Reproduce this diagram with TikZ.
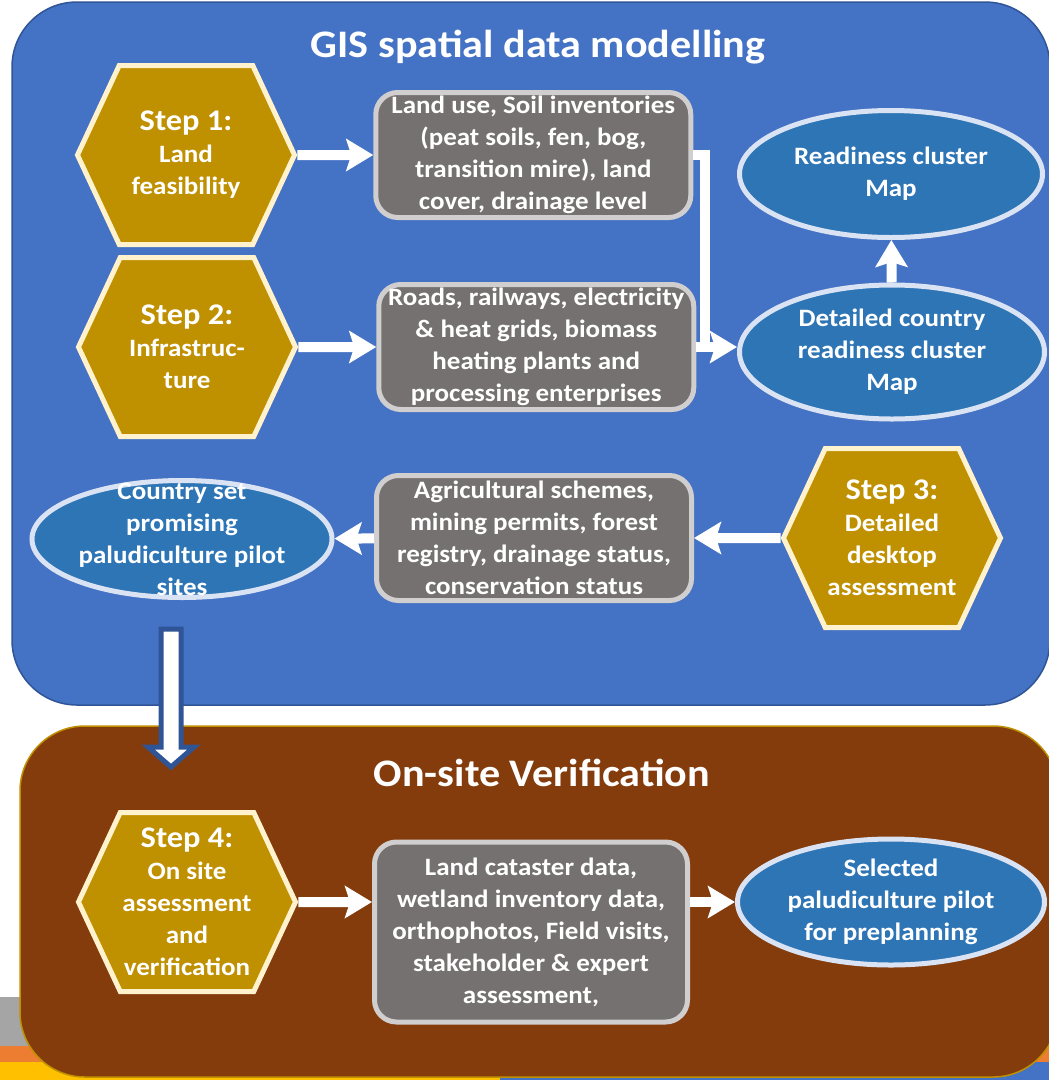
\documentclass[tikz,border=0pt]{standalone}
\usepackage{fontspec}
\setmainfont{Carlito}[FakeStretch=1.08]
\usepackage{tikz}
\usetikzlibrary{arrows.meta,positioning,shapes.geometric,shapes.symbols}
\definecolor{gisblue}{HTML}{4472C4}
\definecolor{gisedge}{HTML}{2F5597}
\definecolor{sitebrown}{HTML}{843C0C}
\definecolor{sitegold}{HTML}{BF9000}
\definecolor{hexcream}{HTML}{FFF2CC}
\definecolor{boxgrey}{HTML}{767171}
\definecolor{boxedge}{HTML}{D0CECE}
\definecolor{ovalblue}{HTML}{2E75B6}
\definecolor{ovaledge}{HTML}{DAE3F3}
\definecolor{barorange}{HTML}{ED7D31}
\definecolor{baryellow}{HTML}{FFC000}
\definecolor{bargrey}{HTML}{A5A5A5}
\newcommand{\stepno}[1]{{\fontsize{30}{33}\selectfont Step #1:}}

\begin{document}
\begin{tikzpicture}[
  x=1pt,y=-1pt,
  every node/.style={text=white,align=center,font=\fontsize{25}{32}\selectfont\bfseries},
  panel/.style={rounded corners=65pt,line width=1.5pt},
  title/.style={font=\fontsize{39}{44}\selectfont\bfseries},
  hexa/.style={signal,signal to=west and east,signal pointer angle=130,fill=sitegold,draw=hexcream,line width=5pt,inner sep=0pt,minimum width=217pt,minimum height=179pt},
  infobox/.style={rectangle,rounded corners=22pt,fill=boxgrey,draw=boxedge,line width=5pt,inner sep=0pt,minimum width=315pt,minimum height=125pt},
  oval/.style={ellipse,fill=ovalblue,draw=ovaledge,line width=5pt,inner sep=0pt},
  link/.style={white,line width=10pt},
  conn/.style={link,-{Stealth[length=27pt,width=32pt,inset=5pt]}}
]
\useasboundingbox (0,0) rectangle (1049,1080);
% footer bars behind the panels
\fill[bargrey] (0,997) rectangle (30,1046);
\fill[barorange] (0,1046) rectangle (1049,1062);
\fill[baryellow] (0,1062) rectangle (500,1080);
\fill[gisblue] (500,1062) rectangle (1049,1080);
% panels
\draw[panel,fill=gisblue,draw=gisedge] (12,2) rectangle (1050,705);
\draw[panel,fill=sitebrown,draw=sitegold] (20,726) rectangle (1058,1077);
\node[title] (gistitle) at (538,47) {GIS spatial data modelling};
\node[title] (sitetitle) at (542,773) {On-site Verification};

% GIS part
\node[hexa] (step1) at (186,155) {\stepno{1}\\Land\\feasibility};
\node[infobox,right=76pt of step1] (landuse) {Land use, Soil inventories\\(peat soils, fen, bog,\\transition mire), land\\cover, drainage level};
\node[hexa] (step2) at (187,347) {\stepno{2}\\Infrastruc-\\ture};
\node[infobox,right=78pt of step2] (infra) {Roads, railways, electricity\\\& heat grids, biomass\\heating plants and\\processing enterprises};
\node[oval,minimum width=305pt,minimum height=134pt,label=center:{Detailed country\\readiness cluster\\Map}] (detail) at (892,352) {};
\node[oval,minimum width=303pt,minimum height=127pt,label=center:{Readiness cluster\\Map}] (ready) at (891,174) {};
\node[hexa] (step3) at (892,538) {\stepno{3}\\Detailed\\desktop\\assessment};
\node[infobox] (schemes) at (534,538) {Agricultural schemes,\\mining permits, forest\\registry, drainage status,\\conservation status};
\node[oval,minimum width=300pt,minimum height=117pt,label=center:{Country set\\promising\\paludiculture pilot\\sites}] (country) at (182,539) {};

\draw[conn] (step1) -- (landuse);
\draw[conn] (step2) -- (infra);
\draw[link] (landuse.east) -- ++(12,0) |- (infra.east);
\draw[conn] (infra.east) -- (infra.east -| detail.west);
\draw[conn] (detail) -- (ready);
\draw[conn] (step3) -- (schemes);
\draw[conn] (schemes) -- (country);

% hand-over to on-site part
\draw[fill=white,draw=gisedge,line width=5pt] (161,629) -- (181,629) -- (181,747) -- (194,747)
  -- (171,767) -- (148,747) -- (161,747) -- cycle;

% on-site part
\node[hexa] (step4) at (187,902) {\stepno{4}\\On site\\assessment\\and\\verification};
\node[infobox,minimum width=313pt,minimum height=180pt] (cataster) at (531,932) {Land cataster data,\\wetland inventory data,\\orthophotos, Field visits,\\stakeholder \& expert\\assessment,};
\node[oval,minimum width=307pt,minimum height=126pt,label=center:{Selected\\paludiculture pilot\\for preplanning}] (selected) at (891,902) {};
\draw[conn] (step4) -- (step4 -| cataster.west);
\draw[conn] (cataster.east |- selected) -- (selected);
\end{tikzpicture}
\end{document}
